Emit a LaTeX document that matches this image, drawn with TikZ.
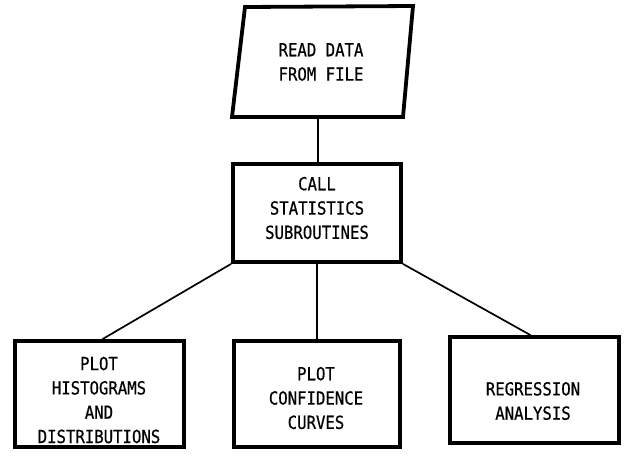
\documentclass[tikz,border=0pt]{standalone}
\usepackage{fontspec}
\setmainfont[FakeStretch=0.87,FakeBold=0.6]{DejaVu Sans Mono}
\begin{document}
\begin{tikzpicture}[x=1pt,y=-1pt,
  boxnode/.style={draw, line width=3.8pt, inner sep=0pt},
  lbl/.style={font=\fontsize{18}{24.3}\selectfont, align=center, inner sep=0pt},
  conn/.style={line width=1.7pt}]
\useasboundingbox (0,0) rectangle (627,461);
% input parallelogram
\coordinate (p1) at (245,7);
\coordinate (p2) at (413,6);
\coordinate (p3) at (403,117);
\coordinate (p4) at (232,117);
\draw[line width=3.8pt, line join=miter] (p1) -- (p2) -- (p3) -- (p4) -- cycle;
\node[lbl] (read) at (321,62) {READ DATA\\FROM FILE};
\coordinate (pbot) at (318,117);
% boxes
\node[boxnode, minimum width=168pt, minimum height=98pt] (call) at (317,213) {};
\node[lbl] (calltxt) at (317,208) {CALL\\STATISTICS\\SUBROUTINES};
\node[boxnode, minimum width=169pt, minimum height=106pt] (hist) at (99.5,394) {};
\node[lbl] (histtxt) at (99,400) {PLOT\\HISTOGRAMS\\AND\\DISTRIBUTIONS};
\node[boxnode, minimum width=166pt, minimum height=106pt] (conf) at (317,394) {};
\node[lbl] (conftxt) at (316,398) {PLOT\\CONFIDENCE\\CURVES};
\node[boxnode, minimum width=169pt, minimum height=106pt] (regr) at (534.5,390) {};
\node[lbl] (regrtxt) at (533,401) {REGRESSION\\ANALYSIS};
% connectors
\draw[conn] (pbot) -- (pbot |- call.north);
\draw[conn] (call.south west) -- ([xshift=3pt]hist.north);
\draw[conn] (call.south) -- (conf.north);
\draw[conn] (call.south east) -- ([xshift=-4pt]regr.north);
\end{tikzpicture}
\end{document}
